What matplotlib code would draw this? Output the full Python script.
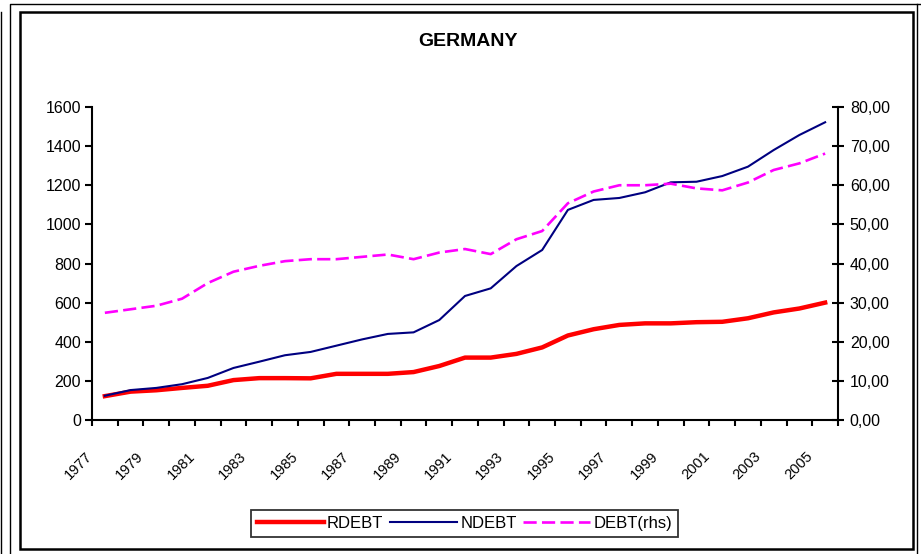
import matplotlib
matplotlib.use("Agg")
import matplotlib.pyplot as plt
from matplotlib.patches import Rectangle
from matplotlib.lines import Line2D
from matplotlib.transforms import ScaledTranslation
import numpy as np

plt.rcParams['font.family'] = ['Liberation Sans', 'DejaVu Sans']

years = list(range(1977, 2006))
rdebt = [122, 145, 152, 164, 175, 204, 214, 214, 213, 236, 236, 236, 245, 276, 319,
         319, 338, 371, 432, 464, 486, 494, 494, 500, 502, 520, 550, 570, 600]
ndebt = [124, 153, 164, 183, 215, 266, 298, 331, 348, 380, 412, 440, 448, 511, 634,
         673, 787, 869, 1074, 1125, 1135, 1164, 1215, 1218, 1247, 1295, 1380, 1457, 1522]
debt_rhs = [27.4, 28.3, 29.2, 31.0, 35.0, 37.9, 39.4, 40.6, 41.1, 41.1, 41.7, 42.3, 41.1,
            42.8, 43.7, 42.4, 46.2, 48.3, 55.4, 58.4, 60.0, 60.0, 60.4, 59.2, 58.7, 60.7,
            63.9, 65.6, 68.1]
left_ticks = [0, 200, 400, 600, 800, 1000, 1200, 1400, 1600]
right_ticks = [0, 10, 20, 30, 40, 50, 60, 70, 80]
right_labels = ["0,00", "10,00", "20,00", "30,00", "40,00", "50,00", "60,00", "70,00", "80,00"]
label_years = [str(y) for y in years[::2]]

W, H = 921, 554
fig = plt.figure(figsize=(W / 100, H / 100), dpi=100)
fig.patch.set_facecolor('white')

def fx(px):
    return px / W
def fy(py):
    return 1 - py / H

fig.add_artist(Rectangle((fx(20), fy(549)), fx(913) - fx(20), fy(12) - fy(549),
                         transform=fig.transFigure, fill=False, edgecolor='black', lw=1.8))
fig.add_artist(Line2D([fx(9.5), fx(9.5), 1.0], [0, fy(4), fy(4)],
                      transform=fig.transFigure, color='black', lw=1.0))
fig.add_artist(Line2D([fx(1.2), fx(1.2)], [0, fy(12)],
                      transform=fig.transFigure, color='black', lw=1.0))
fig.add_artist(Line2D([fx(916.5), fx(916.5)], [0, fy(4)],
                      transform=fig.transFigure, color='black', lw=1.0))

ax = fig.add_axes([fx(92), fy(420), fx(838) - fx(92), fy(107) - fy(420)])
ax2 = ax.twinx()

x = np.arange(len(years))
l1, = ax.plot(x, rdebt, color='#FF0000', lw=3.2, solid_joinstyle='round', zorder=3)
l2, = ax.plot(x, ndebt, color='#000080', lw=1.5, zorder=3)
l3, = ax2.plot(x, debt_rhs, color='#FF00FF', lw=1.9, dashes=[5.0, 2.0], zorder=3)

ax.set_xlim(-0.5, len(years) - 0.5)
ax.set_ylim(0, 1600)
ax2.set_ylim(0, 80)

ax.set_yticks(left_ticks)
ax.set_yticklabels([str(v) for v in left_ticks])
ax2.set_yticks(right_ticks)
ax2.set_yticklabels(right_labels)

ax.set_xticks(x[::2])
ax.set_xticklabels(label_years, rotation=45, ha='right')
ax.set_xticks(np.arange(-0.5, len(years), 1.0), minor=True)

for a in (ax, ax2):
    a.spines['top'].set_visible(False)
    for s in ('left', 'bottom', 'right'):
        a.spines[s].set_linewidth(1.5)
        a.spines[s].set_color('black')
ax.spines['right'].set_visible(False)
ax2.spines['left'].set_visible(False)
ax2.spines['bottom'].set_visible(False)

ax.tick_params(axis='y', direction='out', length=5, width=1.5, labelsize=11.5, pad=3)
ax2.tick_params(axis='y', direction='inout', length=9, width=1.5, labelsize=11.5, pad=4)
ax.tick_params(axis='x', which='major', length=0, labelsize=10.5, pad=21)
ax.tick_params(axis='x', which='minor', direction='out', length=4, width=1.5)

off = ScaledTranslation(-10 / 100, 0, fig.dpi_scale_trans)
for lab in ax.get_xticklabels():
    lab.set_transform(lab.get_transform() + off)

fig.text(fx(468), fy(42), 'GERMANY', ha='center', va='center',
         fontweight='bold', fontsize=14)

leg = fig.legend([l1, l2, l3], ['RDEBT', 'NDEBT', 'DEBT(rhs)'], loc='center',
                 bbox_to_anchor=(fx(464.5), fy(523.5)), ncol=3, fontsize=12,
                 frameon=True, fancybox=False, shadow=False, handlelength=4.0,
                 handletextpad=0.2, columnspacing=0.4, borderpad=0.35,
                 borderaxespad=0)
leg.get_frame().set_edgecolor('black')
leg.get_frame().set_linewidth(1.3)

fig.savefig('out.png', dpi=100, facecolor='white')
